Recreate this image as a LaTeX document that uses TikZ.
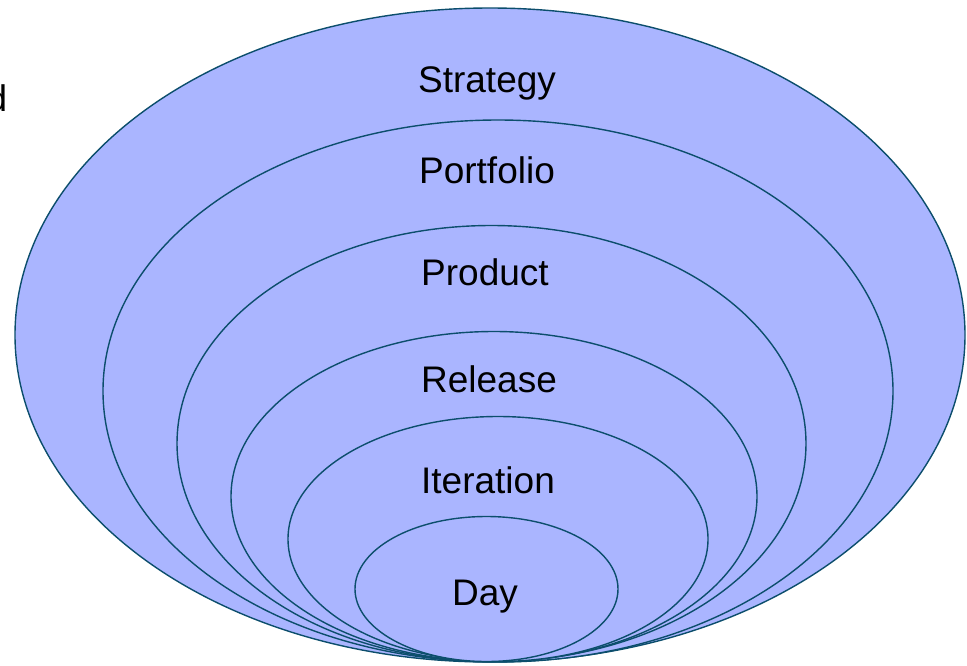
\documentclass[tikz,border=0pt]{standalone}
\usepackage{fontspec}
\setmainfont{Liberation Sans}
\definecolor{ringfill}{RGB}{170,181,255}
\definecolor{ringline}{RGB}{12,78,108}
\begin{document}
\begin{tikzpicture}[x=1pt,y=-1pt,
  ring/.style={fill=ringfill,draw=ringline,line width=1.4pt},
  lbl/.style={font=\fontsize{37}{42}\selectfont,text=black,inner sep=0pt}]
\useasboundingbox (0,0) rectangle (967,665);
\fill[white] (0,0) rectangle (967,665);
\draw[ring] (490,335) ellipse [x radius=475, y radius=327];
\draw[ring] (498,391) ellipse [x radius=395, y radius=271];
\draw[ring] (491.5,443.5) ellipse [x radius=314.5, y radius=218];
\draw[ring] (494,496.5) ellipse [x radius=263, y radius=165];
\draw[ring] (498,539) ellipse [x radius=210, y radius=122.5];
\draw[ring] (486.5,589) ellipse [x radius=131.5, y radius=72.5];
\node[lbl,anchor=base] (strategy) at (487,92) {Strategy};
\node[lbl,anchor=base] (portfolio) at (487,183) {Portfolio};
\node[lbl,anchor=base] (product) at (485,285) {Product};
\node[lbl,anchor=base] (release) at (489,392) {Release};
\node[lbl,anchor=base] (iteration) at (488,493) {Iteration};
\node[lbl,anchor=base] (day) at (485,605) {Day};
\node[lbl,anchor=base east] (cut) at (7.5,111) {d};
\end{tikzpicture}
\end{document}
